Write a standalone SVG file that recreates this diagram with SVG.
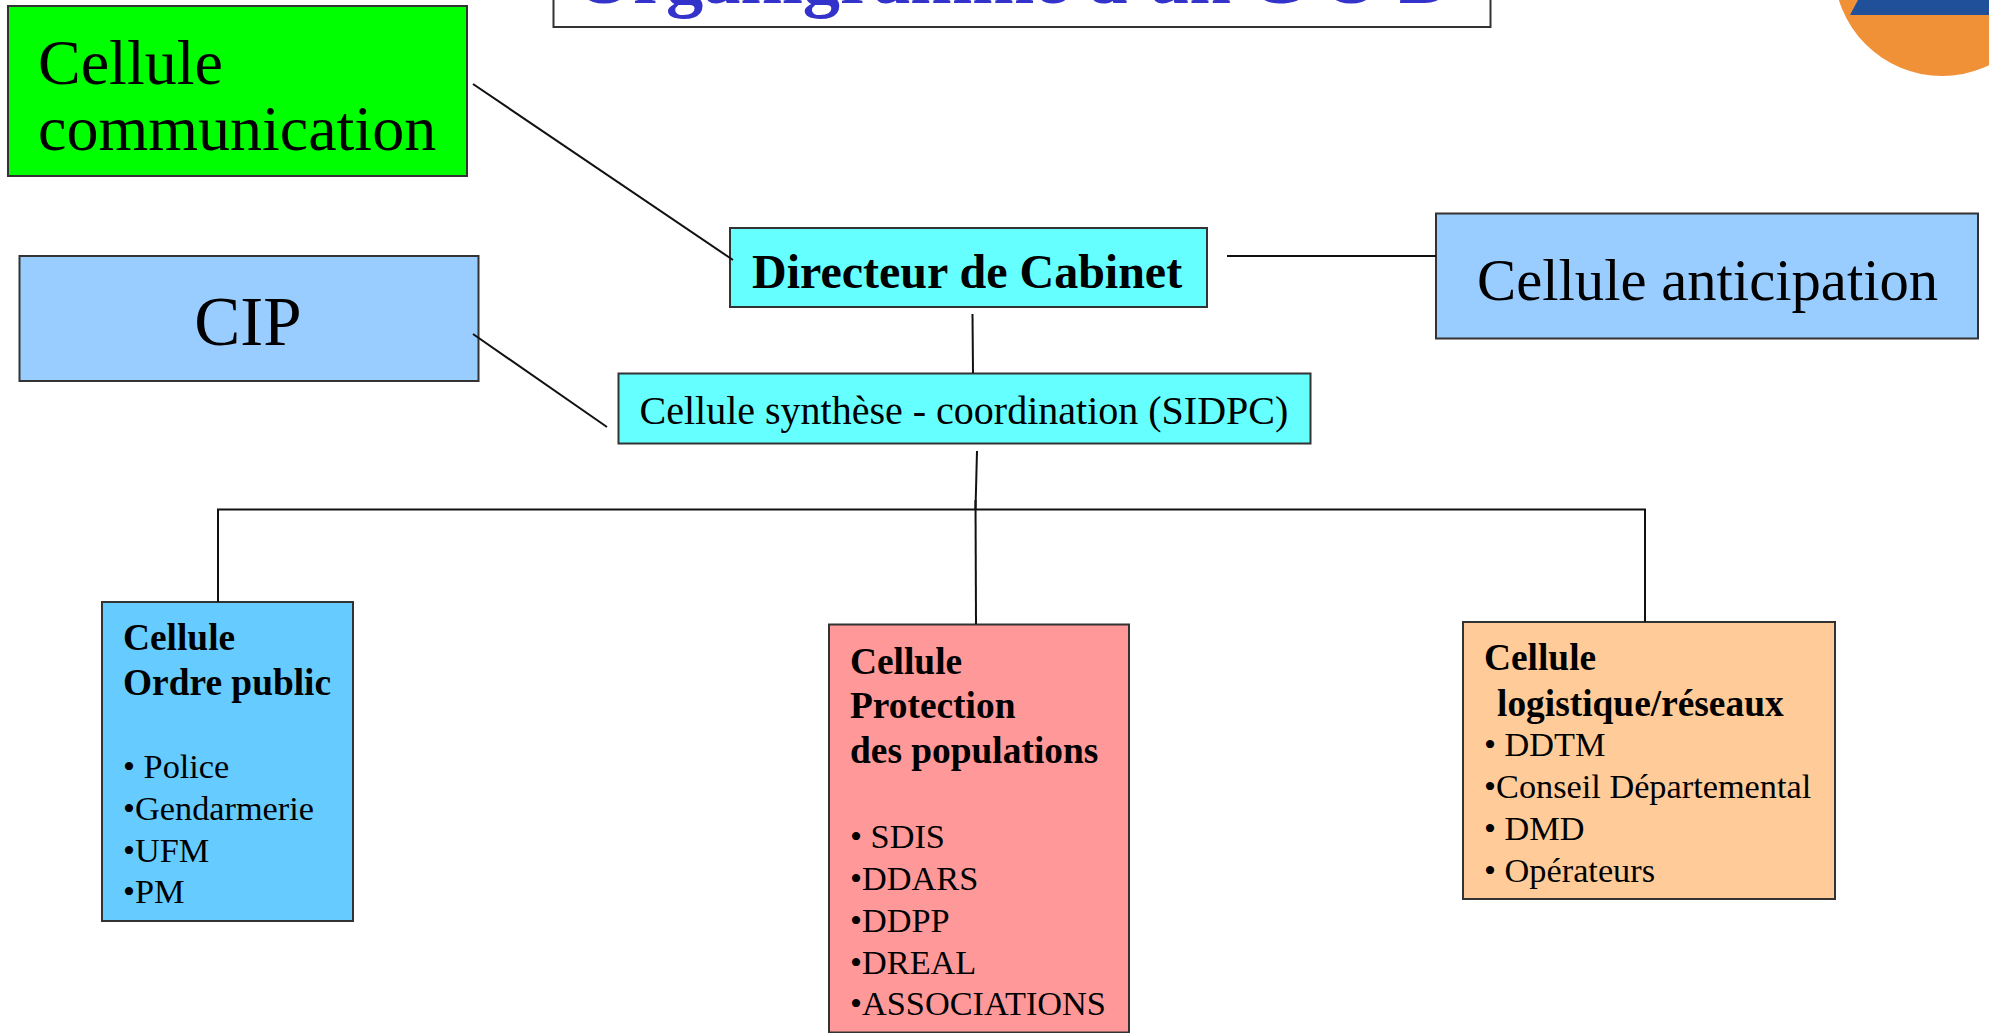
<svg xmlns="http://www.w3.org/2000/svg" width="1989" height="1033" viewBox="0 0 1989 1033">
<style>
text{font-family:"Liberation Serif","Times New Roman",serif;fill:#000}
.b{font-weight:bold}
.box{stroke:#333;stroke-width:2}
.k{stroke:#111;stroke-width:2;fill:none}
.h{font-size:37.400px;font-weight:bold}
.i{font-size:34.300px}
</style>
<rect width="1989" height="1033" fill="#fff"/>
<g id="logo">
<circle cx="1942" cy="-32" r="108" fill="#f09138"/>
<polygon points="1850,15 1989,15 1989,0 1858,0" fill="#1f5099"/>
</g>
<g id="title">
<rect class="box" x="553.5" y="-10" width="937" height="37" fill="#fff"/>
<text x="575" y="3" font-size="74.500" font-weight="bold" style="fill:#3333cc">Organigramme d'un C O D</text>
</g>
<g id="cellule-communication">
<rect class="box" x="8" y="6" width="459" height="170" fill="#00ff00"/>
<text x="38" y="84" font-size="64">Cellule</text>
<text x="38" y="150" font-size="64">communication</text>
</g>
<g id="cip">
<rect class="box" x="19.500" y="256" width="459" height="125" fill="#99ccff"/>
<text x="248" y="345" font-size="69" text-anchor="middle">CIP</text>
</g>
<g id="directeur">
<rect class="box" x="730" y="228" width="477" height="79" fill="#66ffff"/>
<text x="752" y="288" font-size="48" class="b">Directeur de Cabinet</text>
</g>
<g id="cellule-anticipation">
<rect class="box" x="1436" y="213.500" width="542" height="125" fill="#99ccff"/>
<text x="1477" y="300" font-size="58.700">Cellule anticipation</text>
</g>
<g id="cellule-synthese">
<rect class="box" x="618.500" y="373.500" width="692" height="70" fill="#66ffff"/>
<text x="639.500" y="424" font-size="40">Cellule synthèse - coordination (SIDPC)</text>
</g>
<g id="ordre-public">
<rect class="box" x="102" y="602" width="251" height="319" fill="#66ccff"/>
<text x="123" y="650" class="h">Cellule</text>
<text x="123" y="695" class="h">Ordre public</text>
<text x="123" y="778" class="i">• Police</text>
<text x="123" y="820" class="i">•Gendarmerie</text>
<text x="123" y="862" class="i">•UFM</text>
<text x="123" y="903" class="i">•PM</text>
</g>
<g id="protection">
<rect class="box" x="829" y="624.500" width="300" height="408" fill="#ff9999"/>
<text x="850" y="674" class="h">Cellule</text>
<text x="850" y="718" class="h">Protection</text>
<text x="850" y="763" class="h">des populations</text>
<text x="850" y="848" class="i">• SDIS</text>
<text x="850" y="890" class="i">•DDARS</text>
<text x="850" y="932" class="i">•DDPP</text>
<text x="850" y="974" class="i">•DREAL</text>
<text x="850" y="1015" class="i">•ASSOCIATIONS</text>
</g>
<g id="logistique">
<rect class="box" x="1463" y="622" width="372" height="277" fill="#ffcc99"/>
<text x="1484" y="670" class="h">Cellule</text>
<text x="1497" y="716" class="h">logistique/réseaux</text>
<text x="1484" y="756" class="i">• DDTM</text>
<text x="1484" y="798" class="i">•Conseil Départemental</text>
<text x="1484" y="840" class="i">• DMD</text>
<text x="1484" y="882" class="i">• Opérateurs</text>
</g>
<g id="connectors">
<line class="k" x1="473" y1="84" x2="733" y2="260"/>
<line class="k" x1="473" y1="334" x2="607" y2="427"/>
<line class="k" x1="1227" y1="256" x2="1436" y2="256"/>
<line class="k" x1="972.5" y1="314" x2="973" y2="373"/>
<line class="k" x1="977" y1="451" x2="975.5" y2="509"/>
<line class="k" x1="975.5" y1="500" x2="976" y2="624"/>
<path class="k" d="M218 602V509.500H1645V622"/>
</g>
</svg>
